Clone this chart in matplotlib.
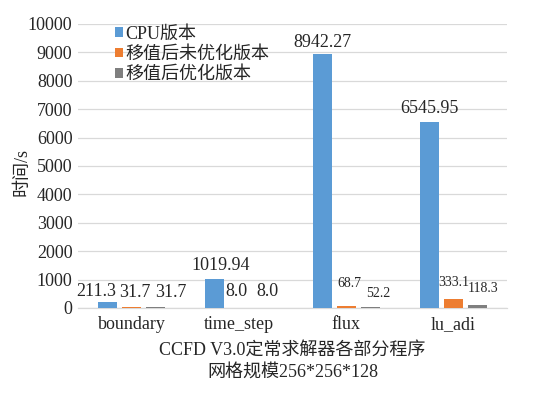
import matplotlib
matplotlib.use("Agg")
import matplotlib.pyplot as plt
import numpy as np

plt.rcParams['font.family'] = ['Liberation Serif', 'Noto Sans CJK SC', 'DejaVu Sans']

categories = ['boundary', 'time_step', 'flux', 'lu_adi']
series_names = ['CPU版本', '移值后未优化版本', '移值后优化版本']
cpu = [211.3, 1019.94, 8942.27, 6545.95]
unopt = [31.7, 8.0, 68.7, 333.1]
opt = [31.7, 8.0, 52.2, 118.3]
label_texts = [['211.3', '1019.94', '8942.27', '6545.95'],
               ['31.7', '8.0', '68.7', '333.1'],
               ['31.7', '8.0', '52.2', '118.3']]
yticks = [0, 1000, 2000, 3000, 4000, 5000, 6000, 7000, 8000, 9000, 10000]
xlabel = 'CCFD V3.0定常求解器各部分程序\n网格规模256*256*128'
ylabel = '时间/s'

# styling / placement (pixel offsets of data labels relative to bar top)
colors = ['#5B9BD5', '#ED7D31', '#7F7F7F']
label_offsets = [[(-11, 10), (6, 14), (0, 12), (0, 14)],
                 [(3, 15), (-2, 16), (3, 23), (0, 16)],
                 [(15, 15), (5, 16), (8, 13), (6, 16)]]
label_sizes = [[13, 13, 13, 13],
               [13, 13, 10, 10],
               [13, 13, 10, 10]]

fig = plt.figure(figsize=(5.36, 3.93), dpi=100)
ax = fig.add_axes([78/536, 1-308/393, (507-78)/536, (308-24)/393])

x = np.arange(len(categories))
width = 0.177
step = 0.224
series = [cpu, unopt, opt]
for i, (vals, name) in enumerate(zip(series, series_names)):
    pos = x + (i - 1) * step
    bars = ax.bar(pos, vals, width, color=colors[i], label=name, zorder=3)
    for j, b in enumerate(bars):
        dx, dy = label_offsets[i][j]
        ax.annotate(label_texts[i][j], (b.get_x() + b.get_width()/2, b.get_height()),
                    xytext=(dx, dy), textcoords='offset pixels',
                    ha='center', va='center', fontsize=label_sizes[i][j],
                    color='#262626', zorder=4)

ax.set_xlim(-0.5, len(categories) - 0.5)
ax.set_ylim(0, 10000)
ax.set_yticks(yticks)
ax.set_yticklabels([str(t) for t in yticks], fontsize=13, color='#262626')
ax.set_xticks(x)
ax.set_xticklabels(categories, fontsize=13, color='#262626')
ax.tick_params(axis='both', length=0)
ax.tick_params(axis='y', pad=4)
ax.tick_params(axis='x', pad=6)
ax.yaxis.grid(True, color='#D9D9D9', linewidth=0.9, zorder=0)
for s in ['top', 'right', 'left']:
    ax.spines[s].set_visible(False)
ax.spines['bottom'].set_color('#D9D9D9')
ax.spines['bottom'].set_linewidth(0.9)

ax.set_xlabel(xlabel, fontsize=13, color='#262626', linespacing=1.3, labelpad=7)
fig.text(22/536, 1-172/393, ylabel, rotation=90, fontsize=13, color='#262626',
         ha='center', va='center')

leg = ax.legend(loc='upper left', bbox_to_anchor=(0.086, 0.995), frameon=False,
                fontsize=13, handlelength=0.45, handleheight=0.45, handletextpad=0.15,
                labelspacing=0.19, borderaxespad=0, borderpad=0)
for t in leg.get_texts():
    t.set_color('#262626')

fig.savefig('out.png', dpi=100)
